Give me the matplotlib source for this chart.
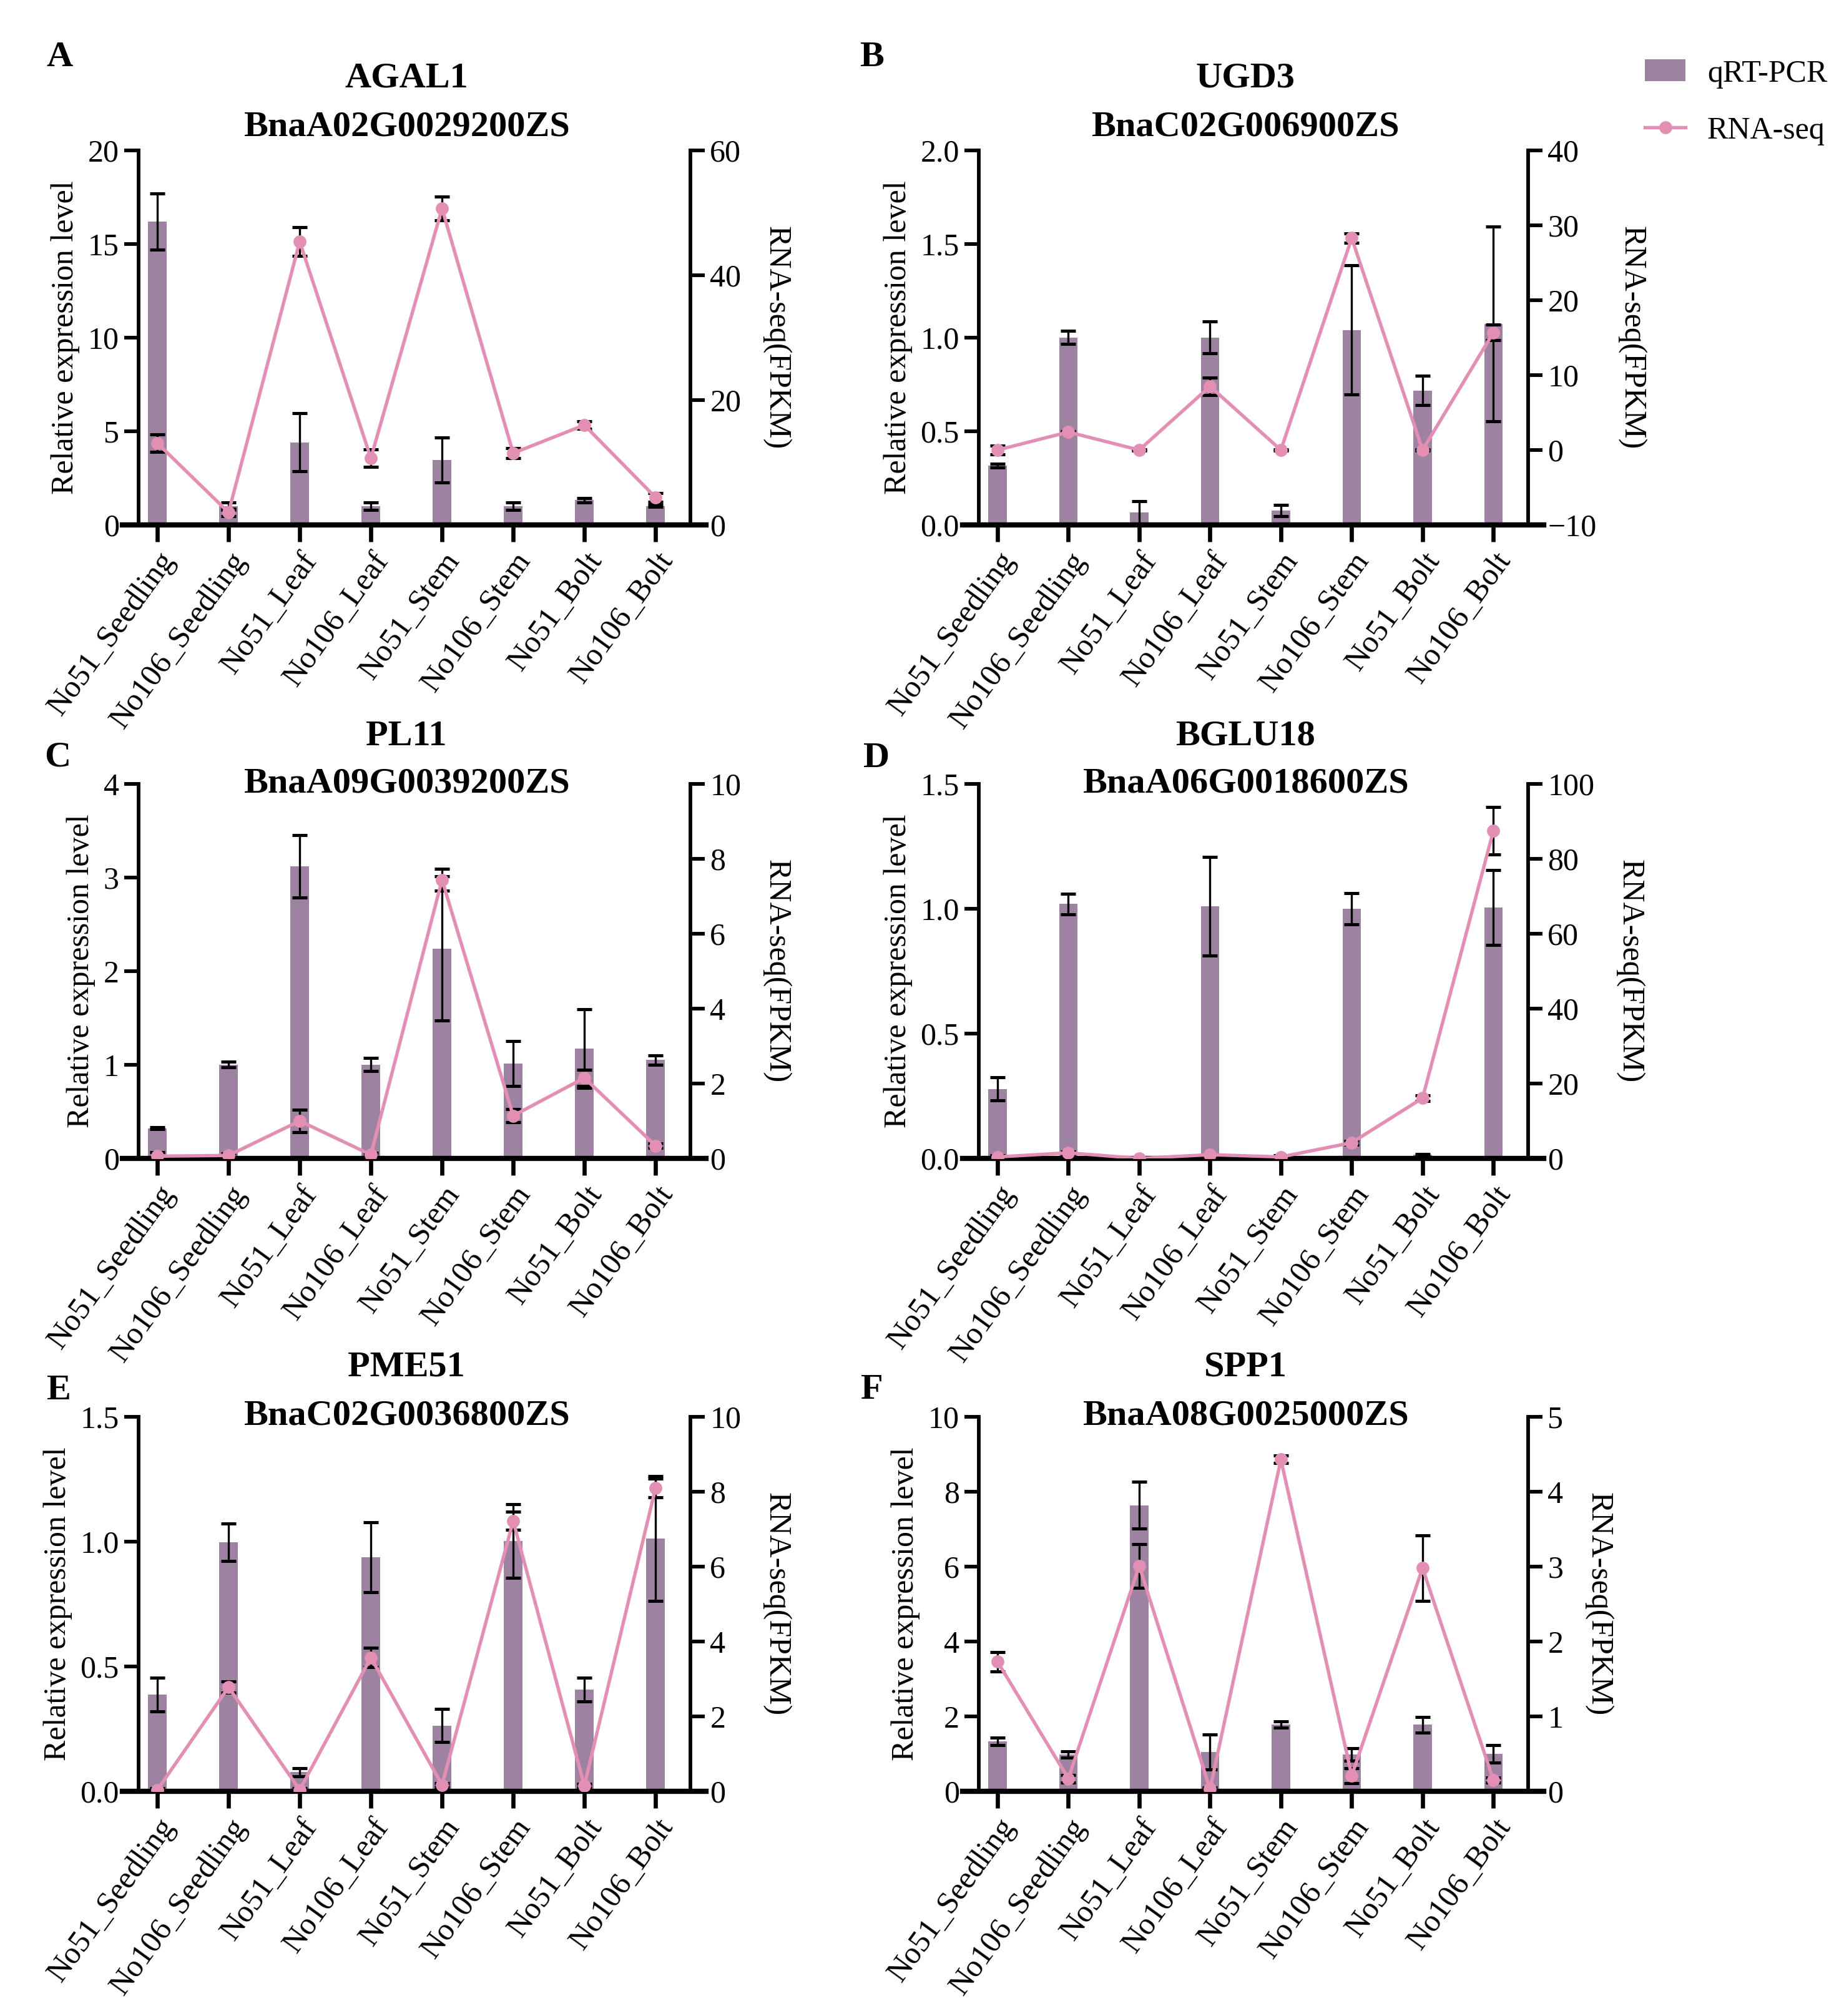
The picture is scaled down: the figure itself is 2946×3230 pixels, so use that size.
import matplotlib
matplotlib.use('Agg')
import matplotlib.pyplot as plt
from matplotlib.patches import Patch
from matplotlib.lines import Line2D

plt.rcParams['font.family'] = ['Liberation Serif', 'DejaVu Serif']

samples = ['No51_Seedling', 'No106_Seedling', 'No51_Leaf', 'No106_Leaf',
           'No51_Stem', 'No106_Stem', 'No51_Bolt', 'No106_Bolt']

# A - AGAL1
agal1_qpcr = [16.2, 1.0, 4.4, 1.0, 3.45, 1.0, 1.32, 1.0]
agal1_qpcr_err = [1.5, 0.2, 1.55, 0.2, 1.2, 0.2, 0.12, 0.05]
agal1_rna = [13.1, 2.0, 45.4, 10.7, 50.7, 11.5, 16.0, 4.4]
agal1_rna_err = [1.4, 0.6, 2.3, 1.4, 1.9, 0.8, 0.6, 0.7]

# B - UGD3
ugd3_qpcr = [0.316, 1.0, 0.065, 1.0, 0.077, 1.04, 0.718, 1.073]
ugd3_qpcr_err = [0.01, 0.035, 0.06, 0.085, 0.03, 0.345, 0.078, 0.52]
ugd3_rna = [0.0, 2.4, 0.0, 8.5, 0.0, 28.3, 0.0, 15.7]
ugd3_rna_err = [0.6, 0.1, 0.1, 1.2, 0.1, 0.6, 0.1, 1.05]

# C - PL11
pl11_qpcr = [0.32, 1.0, 3.12, 1.0, 2.24, 1.01, 1.17, 1.05]
pl11_qpcr_err = [0.01, 0.03, 0.335, 0.07, 0.77, 0.24, 0.42, 0.05]
pl11_rna = [0.06, 0.08, 1.0, 0.1, 7.44, 1.14, 2.15, 0.34]
pl11_rna_err = [0.1, 0.06, 0.3, 0.05, 0.29, 0.18, 0.22, 0.06]

# D - BGLU18
bglu18_qpcr = [0.278, 1.019, 0.004, 1.01, 0.004, 1.0, 0.014, 1.005]
bglu18_qpcr_err = [0.046, 0.041, 0.0, 0.197, 0.0, 0.062, 0.004, 0.15]
bglu18_rna = [0.4, 1.5, 0.0, 1.0, 0.4, 4.2, 16.1, 87.5]
bglu18_rna_err = [0.4, 0.4, 0.2, 0.0, 0.4, 0.5, 0.75, 6.4]

# E - PME51
pme51_qpcr = [0.387, 0.997, 0.077, 0.938, 0.263, 1.003, 0.407, 1.012]
pme51_qpcr_err = [0.068, 0.075, 0.016, 0.14, 0.066, 0.147, 0.047, 0.25]
pme51_rna = [0.04, 2.78, 0.04, 3.57, 0.17, 7.22, 0.15, 8.1]
pme51_rna_err = [0.05, 0.15, 0.05, 0.26, 0.05, 0.24, 0.05, 0.25]

# F - SPP1
spp1_qpcr = [1.34, 0.98, 7.64, 1.05, 1.78, 0.98, 1.78, 1.0]
spp1_qpcr_err = [0.1, 0.08, 0.62, 0.46, 0.08, 0.17, 0.21, 0.24]
spp1_rna = [1.73, 0.17, 3.01, 0.03, 4.43, 0.21, 2.98, 0.15]
spp1_rna_err = [0.13, 0.05, 0.29, 0.02, 0.05, 0.1, 0.44, 0.03]

letters = ['A', 'B', 'C', 'D', 'E', 'F']
genes = ['AGAL1', 'UGD3', 'PL11', 'BGLU18', 'PME51', 'SPP1']
gene_ids = ['BnaA02G0029200ZS', 'BnaC02G006900ZS', 'BnaA09G0039200ZS',
            'BnaA06G0018600ZS', 'BnaC02G0036800ZS', 'BnaA08G0025000ZS']
qpcr = [agal1_qpcr, ugd3_qpcr, pl11_qpcr, bglu18_qpcr, pme51_qpcr, spp1_qpcr]
qpcr_err = [agal1_qpcr_err, ugd3_qpcr_err, pl11_qpcr_err, bglu18_qpcr_err,
            pme51_qpcr_err, spp1_qpcr_err]
rna = [agal1_rna, ugd3_rna, pl11_rna, bglu18_rna, pme51_rna, spp1_rna]
rna_err = [agal1_rna_err, ugd3_rna_err, pl11_rna_err, bglu18_rna_err,
           pme51_rna_err, spp1_rna_err]

left_ticks = [[0, 5, 10, 15, 20], [0.0, 0.5, 1.0, 1.5, 2.0], [0, 1, 2, 3, 4],
              [0.0, 0.5, 1.0, 1.5], [0.0, 0.5, 1.0, 1.5], [0, 2, 4, 6, 8, 10]]
left_fmt = ['{:.0f}', '{:.1f}', '{:.0f}', '{:.1f}', '{:.1f}', '{:.0f}']
right_ticks = [[0, 20, 40, 60], [-10, 0, 10, 20, 30, 40], [0, 2, 4, 6, 8, 10],
               [0, 20, 40, 60, 80, 100], [0, 2, 4, 6, 8, 10], [0, 1, 2, 3, 4, 5]]

bar_color = '#9e82a2'
line_color = '#e38fb4'

W, H = 2946, 3230
fig = plt.figure(figsize=(W / 300, H / 300), dpi=300)

col_left = [222, 1568]
col_width = [884, 880]
row_top = [241, 1256, 2270]
ax_h = 600
title_y1 = [1.193, 1.127, 1.133]
title_y2 = [1.062, 1.0, 1.003]
letter_pos = [(95, 92), (1396, 92), (92, 1213), (1404, 1215), (94, 2228), (1397, 2227)]

x = list(range(len(samples)))

for i in range(6):
    r, c = divmod(i, 2)
    rect = [col_left[c] / W, 1 - (row_top[r] + ax_h) / H, col_width[c] / W, ax_h / H]
    ax = fig.add_axes(rect)
    ax2 = ax.twinx()

    ax.bar(x, qpcr[i], width=0.26, color=bar_color, zorder=2)
    ax.errorbar(x, qpcr[i], yerr=qpcr_err[i], fmt='none', ecolor='black',
                elinewidth=0.8, capsize=2.8, capthick=1.2, zorder=3)
    ax2.errorbar(x, rna[i], yerr=rna_err[i], color=line_color, lw=1.3,
                 marker='o', ms=4, ecolor='black', elinewidth=0.8,
                 capsize=2.8, capthick=1.2)

    ax.set_xlim(-0.264, 7.49)
    ax.set_ylim(left_ticks[i][0], left_ticks[i][-1])
    ax.set_yticks(left_ticks[i])
    ax.set_yticklabels([left_fmt[i].format(t) for t in left_ticks[i]])
    ax2.set_ylim(right_ticks[i][0], right_ticks[i][-1])
    ax2.set_yticks(right_ticks[i])
    ax2.set_yticklabels([str(t).replace('-', '\u2212') for t in right_ticks[i]])

    ax.set_xticks(x)
    ax.set_xticklabels(samples, rotation=54, ha='right', rotation_mode='anchor',
                       fontsize=12)

    for s in ['top', 'right']:
        ax.spines[s].set_visible(False)
    for s in ['top', 'left', 'bottom']:
        ax2.spines[s].set_visible(False)
    ax.spines['left'].set_linewidth(1.4)
    ax2.spines['right'].set_linewidth(1.4)
    ax.spines['bottom'].set_linewidth(2.0)
    ax.spines['bottom'].set_bounds(-0.49, 7.71)

    ax.tick_params(axis='y', direction='out', length=5.5, width=1.4, labelsize=12, pad=2)
    ax2.tick_params(axis='y', direction='out', length=5.5, width=1.4, labelsize=12, pad=2)
    ax.tick_params(axis='x', direction='out', length=6.5, width=1.6, pad=2)

    ax.set_ylabel('Relative expression level', fontsize=12, labelpad=3)
    ax2.set_ylabel('RNA-seq(FPKM)', fontsize=12, rotation=270, va='bottom', labelpad=8)

    ax.set_facecolor('none')
    ax.set_zorder(1)
    ax2.set_zorder(2)

    tr = ax.get_xaxis_transform()
    ax.text(3.5, title_y1[r], genes[i], transform=tr, ha='center', va='center',
            fontsize=14, fontweight='bold')
    ax.text(3.5, title_y2[r], gene_ids[i], transform=tr, ha='center', va='center',
            fontsize=14, fontweight='bold')

    lx, ly = letter_pos[i]
    fig.text(lx / W, 1 - ly / H, letters[i], ha='center', va='center',
             fontsize=14, fontweight='bold')

handles = [Patch(facecolor=bar_color, edgecolor='none'),
           Line2D([0], [0], color=line_color, lw=1.3, marker='o', ms=4)]
fig.legend(handles, ['qRT-PCR', 'RNA-seq'], loc='upper left',
           bbox_to_anchor=(2590 / W, 1 - 50 / H), frameon=False, fontsize=12,
           handlelength=1.3, handletextpad=0.7, labelspacing=0.9)

fig.savefig('out.png', dpi=300)
